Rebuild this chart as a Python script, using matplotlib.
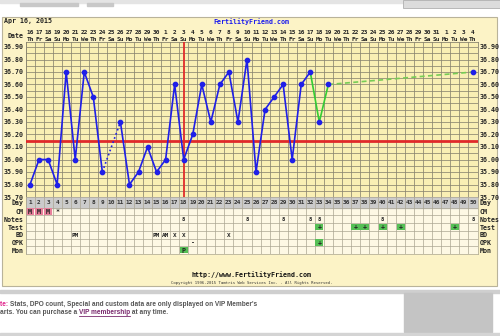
import matplotlib
matplotlib.use("Agg")
import matplotlib.pyplot as plt
import matplotlib.transforms as mtransforms
from matplotlib.patches import Rectangle
import numpy as np
import pandas as pd

# ── Data ──────────────────────────────────────────────────────────────────────
CYCLE_START = "2015-04-16"
N_DAYS = 50
nan = np.nan
TEMPS = [35.8, 36.0, 36.0, 35.8, 36.7, 36.0, 36.7, 36.5, 35.9, nan,
         36.3, 35.8, 35.9, 36.1, 35.9, 36.0, 36.6, 36.0, 36.2, 36.6,
         36.3, 36.6, 36.7, 36.3, 36.8, 35.9, 36.4, 36.5, 36.6, 36.0,
         36.6, 36.7, 36.3, 36.6] + [nan] * 15 + [36.7]
COVERLINE = 36.15
OV_DAY = 18

ROWS = ["CM", "Notes", "Test", "BD", "OPK", "Mon"]
CM_DAYS = [1, 2, 3, 4]
CM_TEXT = ["M", "M", "M", "*"]
NOTE_DAYS = [18, 25, 29, 32, 33, 40, 50]
TEST_DAYS = [33, 37, 38, 40, 42, 48]
BD_DAYS = [6, 15, 16, 17, 18, 23]
BD_TEXT = ["PM", "PM", "AM", "X", "X", "X"]
OPK_DAYS = [19, 33]
OPK_TEXT = ["-", "+"]
MON_DAYS = [18]
MON_TEXT = ["P"]

# ── Style ─────────────────────────────────────────────────────────────────────
W, H = 500, 336
PANEL = "#fcf3c6"
PLOT_BG = "#f9efb4"
GRID = "#8a8570"
TABLE_BG = "#fdf8e4"
DAYROW = "#cbcbcb"
PINK = "#e8809c"
GREEN = "#55bf55"
BLUE = "#1f1fe8"
LGREEN = "#33cc33"
RED = "#e02a2a"
MONO = "DejaVu Sans Mono"
FS = 4.8
HFS = 4.4

def box(x0, y0, x1, y1):
    return [x0 / W, 1 - y1 / H, (x1 - x0) / W, (y1 - y0) / H]

fig = plt.figure(figsize=(W / 100, H / 100), dpi=100, facecolor="white")

# page decorations
bg = fig.add_axes([0, 0, 1, 1])
bg.set_xlim(0, W)
bg.set_ylim(H, 0)
bg.axis("off")
bg.add_patch(Rectangle((0, 0), W, 3, color="#e4e4e4"))
bg.add_patch(Rectangle((20, 3), 58, 3, color="#c8c8c8"))
bg.add_patch(Rectangle((87, 3), 26, 3, color="#c8c8c8"))
bg.add_patch(Rectangle((403, 0), 97, 8, facecolor="#dcdcdc", edgecolor="#b0b0b0", lw=0.6))
bg.add_patch(Rectangle((2, 17), 495, 269, facecolor=PANEL, edgecolor="#b9b39a", lw=0.8))
bg.add_patch(Rectangle((0, 290), W, 3, color="#cfcfcf"))
bg.add_patch(Rectangle((404, 293), 88, 39, color="#c4c4c4"))
bg.add_patch(Rectangle((0, 333), W, 3, color="#d4d4d4"))

dates = pd.date_range(CYCLE_START, periods=N_DAYS)
days = np.arange(1, N_DAYS + 1)
temps = np.array(TEMPS)

# ── Temperature chart ────────────────────────────────────────────────────────
ax = fig.add_axes(box(25.5, 42, 477.5, 197))
ax.set_facecolor(PLOT_BG)
ax.set_xlim(0.5, N_DAYS + 0.5)
ax.set_ylim(35.70, 36.94)
ax.set_xticks(np.arange(0.5, N_DAYS + 1, 1))
ax.set_xticklabels([])
yt = np.round(np.arange(35.7, 36.91, 0.1), 2)
ax.set_yticks(yt)
ax.set_yticklabels([f"{v:.2f}" for v in yt], family=MONO, fontsize=FS, fontweight="bold")
ax.set_yticks(np.arange(35.75, 36.94, 0.1), minor=True)
ax.tick_params(axis="both", which="both", length=0)
ax.tick_params(axis="y", labelleft=True, labelright=True, pad=1.5, colors="#222")
ax.grid(True, which="both", color=GRID, lw=0.55)
for s in ax.spines.values():
    s.set_color(GRID)
    s.set_linewidth(0.6)
ax.set_axisbelow(True)

ax.axhline(COVERLINE, color=RED, lw=2.0, zorder=3)
ax.axvline(OV_DAY, color=RED, lw=1.3, zorder=3)

def seg(a, b, color, ls):
    m = (days >= a) & (days <= b) & ~np.isnan(temps)
    ax.plot(days[m], temps[m], color=color, ls=ls, lw=1.2, zorder=4)

seg(1, 9, BLUE, "-")
seg(9, 11, BLUE, ":")
seg(11, 32, BLUE, "-")
seg(32, 34, LGREEN, "-")
seg(34, 50, "#77cc55", (0, (3, 2)))
ax.plot(days, temps, "o", color=BLUE, ms=3.1, zorder=5)

# header (date / weekday)
tr = mtransforms.blended_transform_factory(ax.transData, ax.transAxes)
hgt = 197 - 42
for d, dt in zip(days, dates):
    ax.text(d, (197 - 32.8) / hgt, str(dt.day), transform=tr, ha="center", va="center",
            family=MONO, fontsize=HFS, fontweight="bold", color="#222", clip_on=False)
    ax.text(d, (197 - 39.2) / hgt, dt.strftime("%a")[:2], transform=tr, ha="center",
            va="center", family=MONO, fontsize=HFS, fontweight="bold", color="#222",
            clip_on=False)
ax.text(-0.004, (197 - 36.2) / hgt, "Date", transform=ax.transAxes, ha="right",
        va="center", family=MONO, fontsize=FS, fontweight="bold", color="#222")

# ── Data table ───────────────────────────────────────────────────────────────
tb = fig.add_axes(box(25.5, 197, 477.5, 254))
tb.set_facecolor(TABLE_BG)
tb.set_xlim(0.5, N_DAYS + 0.5)
tb.set_ylim(len(ROWS), -1.4)
tb.axhspan(-1.4, 0, color=DAYROW, zorder=0)
tb.set_xticks(np.arange(0.5, N_DAYS + 1, 1))
tb.set_xticklabels([])
tb.set_yticks([-0.7] + list(np.arange(len(ROWS)) + 0.5))
tb.set_yticklabels(["Day"] + ROWS, family=MONO, fontsize=FS, fontweight="bold")
tb.set_yticks(np.arange(0, len(ROWS) + 1), minor=True)
tb.tick_params(axis="both", which="both", length=0)
tb.tick_params(axis="y", labelleft=True, labelright=True, pad=1.5, colors="#222")
tb.grid(True, axis="x", which="major", color="#aaa592", lw=0.5)
tb.grid(True, axis="y", which="minor", color="#aaa592", lw=0.5)
for s in tb.spines.values():
    s.set_color("#aaa592")
    s.set_linewidth(0.5)
tb.set_axisbelow(True)

for d in days:
    tb.text(d, -0.7, str(d), ha="center", va="center", family=MONO,
            fontsize=HFS, fontweight="bold", color="#333")

def cells(row, dlist, color):
    r = ROWS.index(row)
    tb.bar(dlist, 0.86, bottom=r + 0.07, width=0.9, color=color, zorder=1)

def marks(row, dlist, labels, size=FS):
    r = ROWS.index(row)
    for d, t in zip(dlist, labels):
        tb.text(d, r + 0.55, t, ha="center", va="center", family=MONO,
                fontsize=size, fontweight="bold", color="#222", zorder=2)

cells("CM", CM_DAYS[:3], PINK)
marks("CM", CM_DAYS, CM_TEXT)
marks("Notes", NOTE_DAYS, ["8"] * len(NOTE_DAYS), size=4.0)
cells("Test", TEST_DAYS, GREEN)
marks("Test", TEST_DAYS, ["+"] * len(TEST_DAYS))
marks("BD", BD_DAYS, BD_TEXT, size=4.3)
cells("OPK", OPK_DAYS[1:], GREEN)
marks("OPK", OPK_DAYS, OPK_TEXT)
cells("Mon", MON_DAYS, GREEN)
marks("Mon", MON_DAYS, MON_TEXT)

# ── Titles and footer ────────────────────────────────────────────────────────
fig.text(4 / W, 1 - 21.5 / H, dates[0].strftime("%b %d, %Y"), family=MONO,
         fontsize=FS, fontweight="bold", color="#222", va="center")
fig.text(251 / W, 1 - 21.5 / H, "FertilityFriend.com", family=MONO, fontsize=FS,
         fontweight="bold", color="#1a1aee", va="center", ha="center")
fig.text(252 / W, 1 - 275 / H, "http://www.FertilityFriend.com", family=MONO,
         fontsize=FS, fontweight="bold", color="#111", ha="center", va="center")
fig.text(252 / W, 1 - 283 / H,
         "Copyright 1996-2015 Tamtris Web Services Inc. - All Rights Reserved.",
         family=MONO, fontsize=2.9, color="#333", ha="center", va="center")

# bottom note, drawn as consecutive text pieces
fig.canvas.draw()
rend = fig.canvas.get_renderer()

def pieces(y, parts, x=0.0):
    for txt, col, ul in parts:
        t = fig.text(x / W, 1 - y / H, txt, family="Liberation Sans", fontsize=4.7,
                     fontweight="bold", color=col, va="center")
        bb = t.get_window_extent(rend)
        if ul:
            bg.plot([x, x + bb.width], [y + 3.2, y + 3.2], color=col, lw=0.6)
        x += bb.width

pieces(304.5, [("te: ", "#e0208a", False),
               ("Stats, DPO count, Special and custom data are only displayed on VIP Member's",
                "#555555", False)])
pieces(313, [("arts. You can purchase a ", "#555555", False),
             ("VIP membership", "#7a2a6e", True),
             (" at any time.", "#555555", False)])

fig.savefig("out.png", dpi=100, facecolor="white")
